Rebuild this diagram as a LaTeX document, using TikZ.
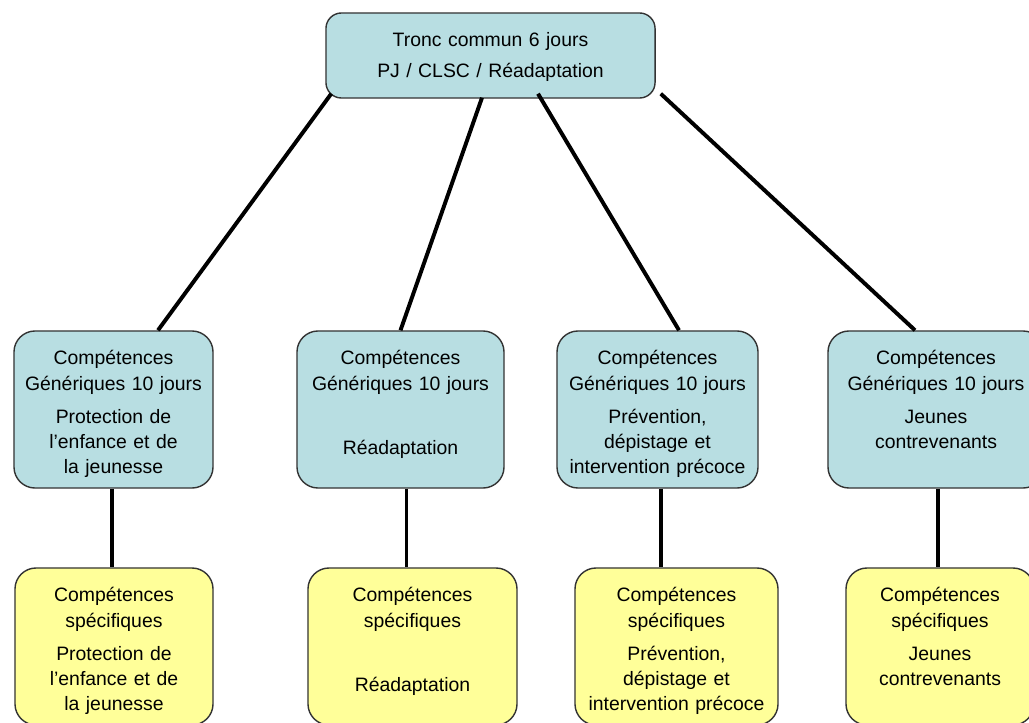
\documentclass[tikz,border=0pt]{standalone}
\usepackage{fontspec}
\setmainfont{Liberation Sans}
\usetikzlibrary{calc}

\definecolor{genblue}{RGB}{184,222,226}
\definecolor{specyellow}{RGB}{255,255,153}

\begin{document}
\begin{tikzpicture}[x=0.025cm,y=-0.025cm,
	box/.style={draw=black!80,line width=1pt,rounded corners=15pt,inner sep=0pt,
		align=center,text width=#1,text height=0.85cm,text depth=3.075cm,
		font=\fontsize{13.8}{17.8}\selectfont},
	genbox/.style={box=#1,fill=genblue},
	specbox/.style={box=#1,fill=specyellow},
	link/.style={line width=2.8pt,black}]

	\useasboundingbox (0,0) rectangle (1029,722);

	% Tronc commun
	% ------------
	\node[genbox=8.225cm,rounded corners=11pt,text depth=1.275cm] (tronc) at (490.5,55.5)
		{Tronc commun 6 jours\\[3.6pt]PJ / CLSC / R\'eadaptation};

	% competences generiques
	% ----------------------
	\node[genbox=4.975cm] (gen1) at (113.5,409.5)
		{Comp\'etences\\G\'en\'eriques 10 jours\\[5.7pt]Protection de\\l'enfance et de\\la jeunesse};
	\node[genbox=5.175cm] (gen2) at (400.5,409.5)
		{Comp\'etences\\G\'en\'eriques 10 jours\\[27.7pt]R\'eadaptation};
	\node[genbox=5.025cm] (gen3) at (657.5,409.5)
		{Comp\'etences\\G\'en\'eriques 10 jours\\[5.7pt]Pr\'evention,\\d\'epistage et\\intervention pr\'ecoce};
	\node[genbox=5.4cm] (gen4) at (936,409.5)
		{Comp\'etences\\G\'en\'eriques 10 jours\\[5.7pt]Jeunes\\contrevenants};

	% competences specifiques
	% -----------------------
	\node[specbox=4.95cm] (spec1) at (114,646.5)
		{Comp\'etences\\sp\'ecifiques\\[5.7pt]Protection de\\l'enfance et de\\la jeunesse};
	\node[specbox=5.225cm] (spec2) at (412.5,646.5)
		{Comp\'etences\\sp\'ecifiques\\[27.7pt]R\'eadaptation};
	\node[specbox=5.075cm] (spec3) at (676.5,646.5)
		{Comp\'etences\\sp\'ecifiques\\[5.7pt]Pr\'evention,\\d\'epistage et\\intervention pr\'ecoce};
	\node[specbox=4.7cm] (spec4) at (940,646.5)
		{Comp\'etences\\sp\'ecifiques\\[5.7pt]Jeunes\\contrevenants};

	% liens tronc -> generiques
	\draw[link] ($(tronc.south west)+(6,-5)$) -- ($(gen1.north)+(44.5,0)$);
	\draw[link] ($(tronc.south)+(-8.5,-1)$) -- (gen2.north);
	\draw[link] ($(tronc.south)+(47.5,-5)$) -- ($(gen3.north)+(21.5,0)$);
	\draw[link] ($(tronc.south east)+(5,-5)$) -- ($(gen4.north)+(-21,0)$);

	% liens generiques -> specifiques
	\coordinate (v1) at ($(gen1.south)+(-1.5,0)$);
	\coordinate (v2) at ($(gen2.south)+(6,0)$);
	\coordinate (v3) at ($(gen3.south)+(3.5,0)$);
	\coordinate (v4) at ($(gen4.south)+(2,0)$);
	\draw[link] (v1) -- (v1 |- spec1.north);
	\draw[link] (v2) -- (v2 |- spec2.north);
	\draw[link] (v3) -- (v3 |- spec3.north);
	\draw[link] (v4) -- (v4 |- spec4.north);

\end{tikzpicture}
\end{document}
